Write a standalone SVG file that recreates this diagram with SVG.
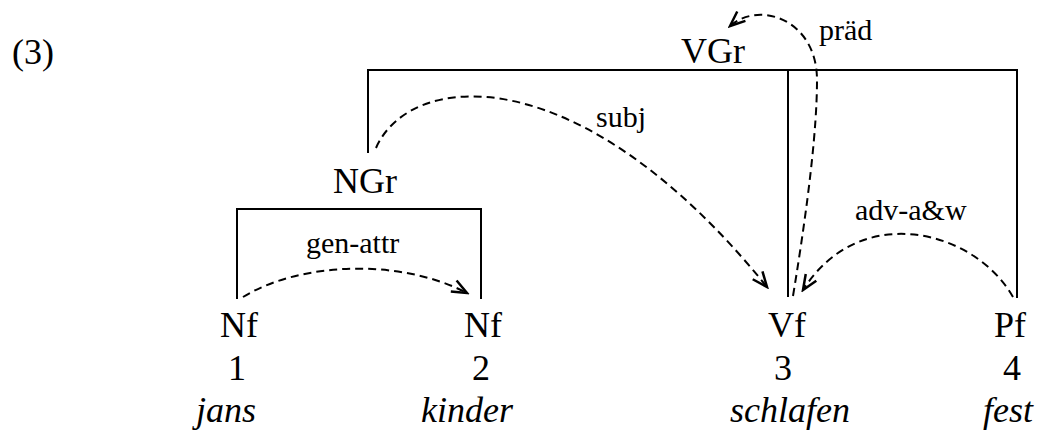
<svg xmlns="http://www.w3.org/2000/svg" width="1040" height="430" viewBox="0 0 1040 430" font-family="'Liberation Serif', 'Times New Roman', Times, 'DejaVu Serif', serif">
<style>
text{font-family:'Liberation Serif','Times New Roman',Times,'DejaVu Serif',serif;fill:#000}
.cat{font-size:36px;text-anchor:middle}
.num{font-size:36px;text-anchor:middle}
.word{font-size:36px;text-anchor:middle;font-style:italic}
.lbl{font-size:30px}
.br{fill:none;stroke:#000;stroke-width:2}
.dep{fill:none;stroke:#000;stroke-width:2;stroke-dasharray:8,5;marker-end:url(#arr)}
</style>
<defs>
<marker id="arr" markerUnits="userSpaceOnUse" markerWidth="20" markerHeight="20" refX="0" refY="0" viewBox="-14 -8 16 16" orient="auto">
<path d="M-12,-5 L0,0 L-12,5" fill="none" stroke="#000" stroke-width="2"/>
</marker>
</defs>
<text x="12" y="64" style="font-size:36px">(3)</text>
<g id="VGr">
<path class="br" d="M368,153 L368,70 L1017,70 L1017,298 M788,70 L788,297"/>
<text class="cat" x="713" y="63">VGr</text>
</g>
<g id="NGr">
<path class="br" d="M237,299 L237,209 L481,209 L481,299"/>
<text class="cat" x="365" y="193">NGr</text>
</g>
<g id="n1">
<text class="cat" x="239" y="337">Nf</text>
<text class="num" x="237" y="380">1</text>
<text class="word" x="226" y="422">jans</text>
</g>
<g id="n2">
<text class="cat" x="483" y="337">Nf</text>
<text class="num" x="481" y="380">2</text>
<text class="word" x="467" y="422">kinder</text>
</g>
<g id="n3">
<text class="cat" x="787" y="337">Vf</text>
<text class="num" x="783" y="380">3</text>
<text class="word" x="790" y="422">schlafen</text>
</g>
<g id="n4">
<text class="cat" x="1010" y="337">Pf</text>
<text class="num" x="1012" y="380">4</text>
<text class="word" x="1008" y="422">fest</text>
</g>
<g id="connectors">
<path class="dep" d="M243,297 C300,262 400,258 467,293"/>
<path class="dep" d="M376,148 C410,70 580,55 767,287"/>
<path class="dep" d="M793,296 Q817,150 817,80 C817,20 760,0 730,26"/>
<path class="dep" d="M1013,297 C975,230 860,200 803,290"/>
<text class="lbl" x="306" y="253">gen-attr</text>
<text class="lbl" x="596" y="127">subj</text>
<text class="lbl" x="819" y="40">präd</text>
<text class="lbl" x="855" y="220">adv-a&amp;w</text>
</g>
</svg>
